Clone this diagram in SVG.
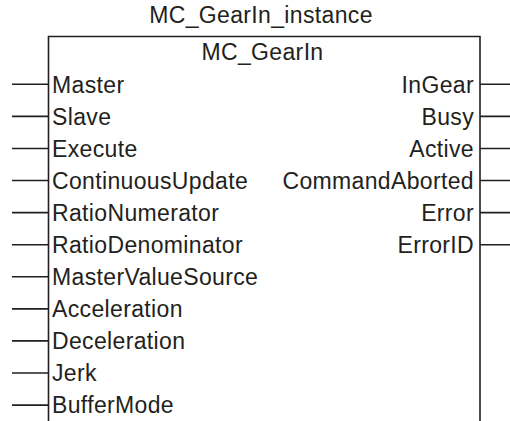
<svg xmlns="http://www.w3.org/2000/svg" width="510" height="421" viewBox="0 0 510 421">
<style>
.t{font-family:"Liberation Sans",Arial,sans-serif;font-size:23px;fill:#231f20;letter-spacing:0.35px}
.e{text-anchor:end}
.m{text-anchor:middle}
.ln{stroke:#231f20;stroke-width:1.6;fill:none}
</style>
<rect width="510" height="421" fill="#fff"/>
<g id="connectors" class="ln">
<path d="M12 84.3H48M12 116.4H48M12 148.5H48M12 180.5H48M12 212.6H48M12 244.7H48M12 276.8H48M12 308.9H48M12 340.9H48M12 373H48M12 405.1H48"/>
<path d="M480 84.3H510M480 116.4H510M480 148.5H510M480 180.5H510M480 212.6H510M480 244.7H510"/>
</g>
<g id="MC_GearIn_instance">
<text class="t m" x="261" y="23.3">MC_GearIn_instance</text>
<path class="ln" d="M48.5 421V36.5H480V421"/>
<text class="t m" x="262.5" y="60">MC_GearIn</text>
<g id="inputs">
<text class="t" x="52" y="92.6">Master</text>
<text class="t" x="52" y="124.7">Slave</text>
<text class="t" x="52" y="156.8">Execute</text>
<text class="t" x="52" y="188.8">ContinuousUpdate</text>
<text class="t" x="52" y="220.9">RatioNumerator</text>
<text class="t" x="52" y="253">RatioDenominator</text>
<text class="t" x="52" y="285.1">MasterValueSource</text>
<text class="t" x="52" y="317.2">Acceleration</text>
<text class="t" x="52" y="349.2">Deceleration</text>
<text class="t" x="52" y="381.3">Jerk</text>
<text class="t" x="52" y="413.4">BufferMode</text>
</g>
<g id="outputs">
<text class="t e" x="474" y="92.6">InGear</text>
<text class="t e" x="474" y="124.7">Busy</text>
<text class="t e" x="474" y="156.8">Active</text>
<text class="t e" x="474" y="188.8">CommandAborted</text>
<text class="t e" x="474" y="220.9">Error</text>
<text class="t e" x="474" y="253">ErrorID</text>
</g>
</g>
</svg>
